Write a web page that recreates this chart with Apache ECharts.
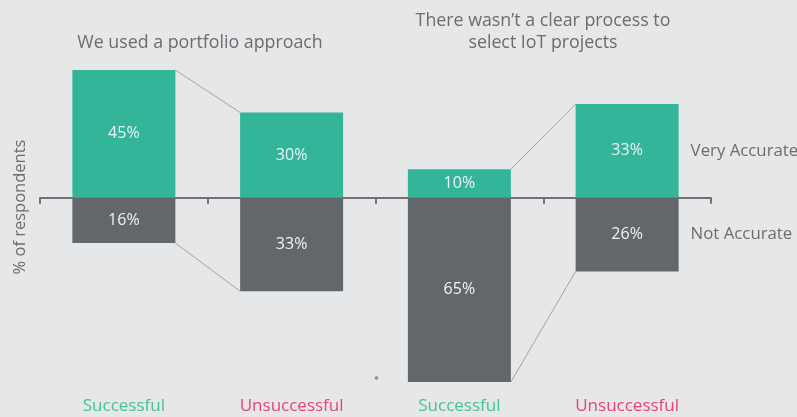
<!DOCTYPE html>
<html>
<head>
<meta charset="utf-8">
<script src="https://cdn.jsdelivr.net/npm/echarts@6/dist/echarts.min.js"></script>
<style>
  html, body { margin: 0; padding: 0; background: #e6e7e9; }
  #chart { width: 797px; height: 417px; }
</style>
</head>
<body>
<div id="chart"></div>
<script>
  const categories = ['Successful', 'Unsuccessful', 'Successful', 'Unsuccessful'];
  const veryAccurate = [45, 30, 10, 33];
  const notAccurate = [-16, -33, -65, -26];
  const groupTitles = ['We used a portfolio approach', 'There wasn\u2019t a clear process to\nselect IoT projects'];
  const seriesNames = ['Very Accurate', 'Not Accurate'];
  // which category pairs get joined by the thin connector lines
  const pairs = [[0, 1], [2, 3]];

  const GREEN = '#32b598';
  const GREY = '#63676b';
  const TEXT = '#6b6c6e';
  const FONT = '"Open Sans", sans-serif';
  const BAR_RATIO = 0.614;

  const connectorData = [];
  pairs.forEach(([a, b]) => {
    connectorData.push([a, b, veryAccurate[a], veryAccurate[b]]);
    connectorData.push([a, b, notAccurate[a], notAccurate[b]]);
  });

  const last = categories.length - 1;
  const sideLabelData = [
    [last, veryAccurate[last] / 2, seriesNames[0]],
    [last, notAccurate[last] / 2, seriesNames[1]],
  ];

  const chart = echarts.init(document.getElementById('chart'), null, { renderer: 'canvas' });

  const barLabel = {
    show: true,
    position: 'inside',
    color: '#eef4f2',
    fontSize: 16,
    fontFamily: FONT,
    formatter: (p) => Math.abs(p.value) + '%',
  };

  chart.setOption({
    backgroundColor: '#e6e7e9',
    animation: false,
    title: [
      {
        text: groupTitles[0],
        left: 195, top: 29, textAlign: 'center',
        textStyle: { color: TEXT, fontSize: 17.8, fontWeight: 'normal', fontFamily: FONT },
      },
      {
        text: groupTitles[1],
        left: 538, top: 5, textAlign: 'center',
        textStyle: { color: TEXT, fontSize: 17.8, fontWeight: 'normal', fontFamily: FONT, lineHeight: 22 },
      },
    ],
    grid: { left: 40, right: 86, top: 70, bottom: 35 },
    xAxis: [
      {
        type: 'category',
        data: categories,
        axisLine: { onZero: true, lineStyle: { color: '#707174', width: 2 } },
        axisTick: { show: true, length: 6, lineStyle: { color: '#707174', width: 2 } },
        axisLabel: { show: false },
      },
      {
        type: 'category',
        data: categories,
        position: 'bottom',
        axisLine: { show: false },
        axisTick: { show: false },
        axisLabel: {
          interval: 0,
          margin: 16,
          fontSize: 17,
          fontFamily: FONT,
          formatter: (v, i) => (i % 2 === 0 ? '{s|' + v + '}' : '{u|' + v + '}'),
          rich: {
            s: { color: '#45c48d', fontSize: 17, fontFamily: FONT },
            u: { color: '#e5437a', fontSize: 17, fontFamily: FONT },
          },
        },
      },
    ],
    yAxis: {
      type: 'value',
      min: -65,
      max: 45,
      name: '% of respondents',
      nameLocation: 'middle',
      nameGap: 11,
      nameTextStyle: { color: TEXT, fontSize: 16.5, fontFamily: FONT, padding: [0, 0, 0, 38] },
      axisLine: { show: false },
      axisTick: { show: false },
      axisLabel: { show: false },
      splitLine: { show: false },
    },
    series: [
      {
        name: seriesNames[0],
        type: 'bar',
        stack: 'total',
        barWidth: (BAR_RATIO * 100) + '%',
        data: veryAccurate,
        itemStyle: { color: GREEN },
        label: barLabel,
      },
      {
        name: seriesNames[1],
        type: 'bar',
        stack: 'total',
        data: notAccurate,
        itemStyle: { color: GREY },
        label: barLabel,
      },
      {
        type: 'custom',
        silent: true,
        encode: { x: 0, y: 2 },
        data: connectorData,
        z: 1,
        renderItem: (params, api) => {
          const half = api.size([1, 0])[0] * BAR_RATIO / 2;
          const p1 = api.coord([api.value(0), api.value(2)]);
          const p2 = api.coord([api.value(1), api.value(3)]);
          return {
            type: 'line',
            shape: { x1: p1[0] + half, y1: p1[1], x2: p2[0] - half, y2: p2[1] },
            style: { stroke: '#a3a4a6', lineWidth: 1 },
          };
        },
      },
      {
        type: 'custom',
        silent: true,
        encode: { x: 0, y: 1 },
        data: sideLabelData,
        renderItem: (params, api) => {
          const half = api.size([1, 0])[0] * BAR_RATIO / 2;
          const p = api.coord([api.value(0), api.value(1)]);
          return {
            type: 'text',
            x: p[0] + half + 12,
            y: p[1],
            style: {
              text: sideLabelData[params.dataIndex][2],
              fill: TEXT,
              fontSize: 16.8,
              fontFamily: FONT,
              verticalAlign: 'middle',
              align: 'left',
            },
          };
        },
      },
    ],
    graphic: [
      { type: 'circle', shape: { cx: 376.5, cy: 378, r: 1.8 }, style: { fill: '#8a8b8d' } },
    ],
  });
</script>
</body>
</html>
